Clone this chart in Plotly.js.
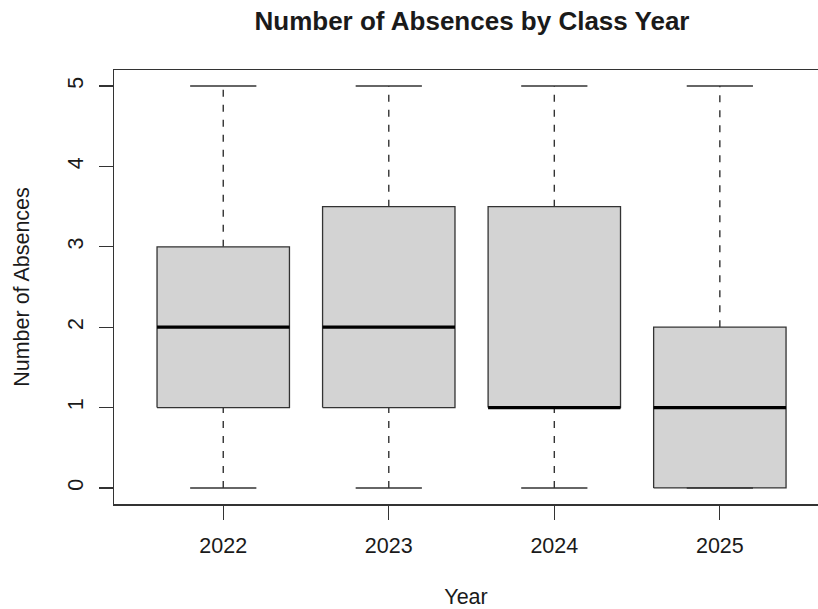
<!DOCTYPE html>
<html>
<head>
<meta charset="utf-8">
<script src="https://cdn.plot.ly/plotly-3.0.1.min.js"></script>
<style>html,body{margin:0;padding:0;background:#fff;}#chart{width:818px;height:609px;}</style>
</head>
<body>
<div id="chart"></div>
<script>
// Data (boxplot five-number summaries)
const years = ["2022", "2023", "2024", "2025"];
const lowerWhisker = [0, 0, 0, 0];
const q1 = [1, 1, 1, 0];
const median = [2, 2, 1, 1];
const q3 = [3, 3.5, 3.5, 2];
const upperWhisker = [5, 5, 5, 5];
const yTicks = [0, 1, 2, 3, 4, 5];

const pos = years.map((_, i) => i + 1);
const HALF = 0.4, STAPLE = 0.2;
const FONT = '"Liberation Sans", Arial, Helvetica, sans-serif';
const INK = '#1a1a1a';

const wx = [], wy = [], bx = [], by = [], sx = [], sy = [], mx = [], my = [];
pos.forEach((p, i) => {
  wx.push(p, p, null, p, p, null);
  wy.push(q3[i], upperWhisker[i], null, lowerWhisker[i], q1[i], null);
  bx.push(p - HALF, p + HALF, p + HALF, p - HALF, p - HALF, null);
  by.push(q1[i], q1[i], q3[i], q3[i], q1[i], null);
  sx.push(p - STAPLE, p + STAPLE, null, p - STAPLE, p + STAPLE, null);
  sy.push(upperWhisker[i], upperWhisker[i], null, lowerWhisker[i], lowerWhisker[i], null);
  mx.push(p - HALF, p + HALF, null);
  my.push(median[i], median[i], null);
});

const traces = [
  {x: wx, y: wy, mode: 'lines', line: {color: '#333', width: 1.4, dash: '7px,8px'}, hoverinfo: 'skip'},
  {x: bx, y: by, mode: 'lines', fill: 'toself', fillcolor: '#d3d3d3', line: {color: '#333', width: 1.3}, hoverinfo: 'skip'},
  {x: sx, y: sy, mode: 'lines', line: {color: '#333', width: 1.6}, hoverinfo: 'skip'},
  {x: mx, y: my, mode: 'lines', line: {color: '#000', width: 3.2}, hoverinfo: 'skip'}
];

const layout = {
  width: 818, height: 609,
  margin: {l: 114, r: 0, t: 70, b: 104.5},
  paper_bgcolor: '#fff', plot_bgcolor: '#fff',
  showlegend: false,
  font: {family: FONT, color: INK, size: 21.5},
  title: {text: '<b>Number of Absences by Class Year</b>', font: {family: FONT, size: 26, color: INK},
          x: 0.577, xanchor: 'center', xref: 'container', y: 0.965, yanchor: 'middle'},
  xaxis: {
    range: [0.34, 4.593], tickvals: pos, ticktext: years,
    ticks: 'outside', ticklen: 14, tickwidth: 1.3, tickcolor: '#333',
    showline: true, linecolor: '#333', linewidth: 1.5, mirror: true,
    showgrid: false, zeroline: false, ticklabelstandoff: 8,
    tickfont: {family: FONT, size: 21.5, color: INK},
    title: {text: 'Year', font: {family: FONT, size: 21.5, color: INK}, standoff: 32}
  },
  yaxis: {
    range: [-0.2, 5.2], tickvals: yTicks, ticktext: yTicks.map(String),
    ticks: 'outside', ticklen: 14, tickwidth: 1.3, tickcolor: '#333',
    showline: true, linecolor: '#333', linewidth: 1.5,
    showgrid: false, zeroline: false, tickangle: -90, ticklabelstandoff: 7,
    tickfont: {family: FONT, size: 21.5, color: INK},
    title: {text: 'Number of Absences', font: {family: FONT, size: 21.5, color: INK}, standoff: 28}
  }
};

Plotly.newPlot('chart', traces, layout, {displayModeBar: false, staticPlot: true});
</script>
</body>
</html>
